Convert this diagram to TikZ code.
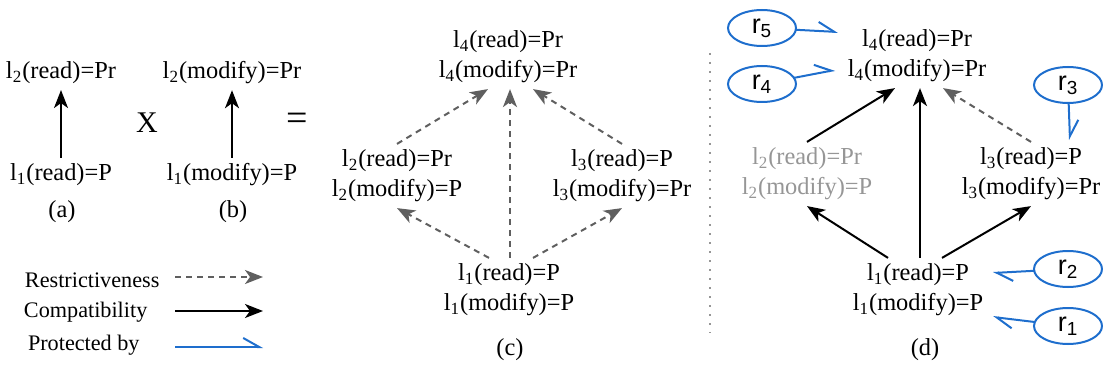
\documentclass[tikz,border=0pt]{standalone}
\usepackage{fontspec}
\setmainfont{Liberation Serif}
\newfontfamily\rfont{Liberation Sans}
\usepackage{tikz}
\usetikzlibrary{arrows.meta, positioning, shapes.geometric}
\definecolor{MyGray}{RGB}{95,95,95}
\definecolor{LightGray}{RGB}{150,150,150}
\definecolor{MyBlue}{RGB}{30,110,205}
\tikzstyle{restrict} = [-{Stealth[length=9pt, width=7pt, inset=2.5pt]}, draw=MyGray, dash pattern=on 3pt off 2.5pt]
\tikzstyle{compat} = [-{Stealth[length=9pt, width=7pt, inset=2.5pt]}, draw=black]
\tikzstyle{protect} = [-{Straight Barb[left, length=8pt, width=9pt]}, draw=MyBlue]
\tikzstyle{lvl} = [align=center, text=black]
\tikzstyle{legend} = [anchor=west, font=\fontsize{11.1}{13}\selectfont]
\tikzstyle{rnode} = [ellipse, draw=MyBlue, minimum width=34pt, minimum height=18pt, inner sep=0pt, outer sep=0pt, font=\rfont\fontsize{13.5}{14}\selectfont]

\begin{document}
\begin{tikzpicture}[x=0.5pt, y=0.5pt, node distance=1cm, outer sep=3pt, inner sep=0pt, line width=1pt, font=\fontsize{12.2}{15}\selectfont]
	\useasboundingbox (0,0) rectangle (1103,370);
	% (a) and (b)
	\node (l1a) [lvl] at (61,195) {l\textsubscript{1}(read)=P};
	\node (l2a) [lvl] at (61,297) {l\textsubscript{2}(read)=Pr};
	\node (capa) at (62,158) {(a)};
	\node (times) [font=\fontsize{15}{15}\selectfont] at (147,247) {X};
	\node (l1b) [lvl] at (232,195) {l\textsubscript{1}(modify)=P};
	\node (l2b) [lvl] at (232,297) {l\textsubscript{2}(modify)=Pr};
	\node (capb) at (233,158) {(b)};
	\node (equals) [font=\fontsize{19}{19}\selectfont] at (297,248) {=};

	\draw [compat] (l1a) -- (l2a);
	\draw [compat] (l1b) -- (l2b);

	% legend
	\node (restr) [legend] at (19,90) {Restrictiveness};
	\node (comp) [legend] at (18,58) {Compatibility};
	\node (prot) [legend] at (22,25) {Protected by};
	\coordinate (restrA) at (175,93);
	\coordinate (restrB) at (263,93);
	\coordinate (compA) at (175,59);
	\coordinate (compB) at (263,59);
	\coordinate (protA) at (175,23);
	\coordinate (protB) at (263,23);
	\draw [restrict] (restrA) -- (restrB);
	\draw [compat] (compA) -- (compB);
	\draw [protect] (protA) -- (protB);

	% (c)
	\node (l4c) [lvl] at (508,313) {l\textsubscript{4}(read)=Pr\\l\textsubscript{4}(modify)=Pr};
	\node (l2c) [lvl] at (397,194) {l\textsubscript{2}(read)=Pr\\l\textsubscript{2}(modify)=P};
	\node (l3c) [lvl] at (622,194) {l\textsubscript{3}(read)=P\\l\textsubscript{3}(modify)=Pr};
	\node (l1c) [lvl] at (509,80) {l\textsubscript{1}(read)=P\\l\textsubscript{1}(modify)=P};
	\node (capc) at (510,20) {(c)};

	\draw [restrict] ([xshift=-10pt]l1c.north) -- (l2c.south);
	\draw [restrict] ([xshift=0.5pt]l1c.north) -- ([xshift=1pt]l4c.south);
	\draw [restrict] ([xshift=12pt]l1c.north) -- (l3c.south);
	\draw [restrict] (l2c.north) -- ([xshift=-10pt]l4c.south);
	\draw [restrict] (l3c.north) -- ([xshift=12.5pt]l4c.south);

	% separator
	\draw [LightGray, dash pattern=on 1pt off 3.5pt] (710,317) -- (710,37);

	% (d)
	\node (l4d) [lvl] at (917,314) {l\textsubscript{4}(read)=Pr\\l\textsubscript{4}(modify)=Pr};
	\node (l2d) [lvl, text=LightGray] at (807,196) {l\textsubscript{2}(read)=Pr\\l\textsubscript{2}(modify)=P};
	\node (l3d) [lvl] at (1031,196) {l\textsubscript{3}(read)=P\\l\textsubscript{3}(modify)=Pr};
	\node (l1d) [lvl] at (918,80) {l\textsubscript{1}(read)=P\\l\textsubscript{1}(modify)=P};
	\node (capd) at (925,20) {(d)};

	\draw [compat] ([xshift=-15pt]l1d.north) -- (l2d.south);
	\draw [compat] ([xshift=1pt]l1d.north) -- ([xshift=1.5pt]l4d.south);
	\draw [compat] ([xshift=12pt]l1d.north) -- (l3d.south);
	\draw [compat] (l2d.north) -- ([xshift=-11pt]l4d.south);
	\draw [restrict] (l3d.north) -- ([xshift=13pt]l4d.south);

	% rules
	\node (r5) [rnode] at (762,342) {r\textsubscript{5}};
	\node (r4) [rnode] at (762,286) {r\textsubscript{4}};
	\node (r3) [rnode] at (1068,285) {r\textsubscript{3}};
	\node (r2) [rnode] at (1068,101) {r\textsubscript{2}};
	\node (r1) [rnode] at (1068,44) {r\textsubscript{1}};

	\coordinate (p5) at (838,338);
	\coordinate (p4) at (835,300);
	\coordinate (p3) at (1070,230);
	\coordinate (p2) at (993,97);
	\coordinate (p1) at (993,53);
	\draw [protect] (r5) -- (p5);
	\draw [protect] (r4) -- (p4);
	\draw [protect] (r3) -- (p3);
	\draw [protect] (r2) -- (p2);
	\draw [protect] (r1) -- (p1);
\end{tikzpicture}
\end{document}
